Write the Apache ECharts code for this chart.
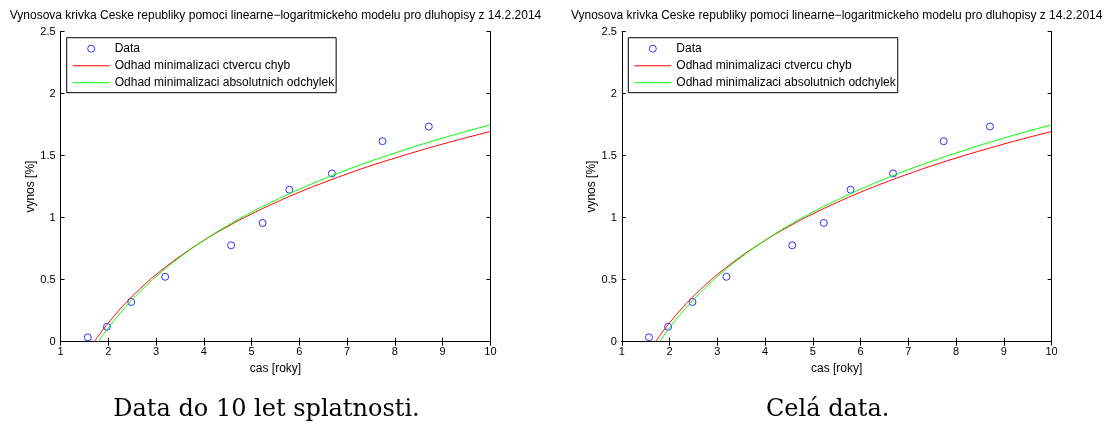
<!DOCTYPE html>
<html>
<head>
<meta charset="utf-8">
<script src="https://cdn.jsdelivr.net/npm/echarts@6/dist/echarts.min.js"></script>
<style>html,body{margin:0;padding:0;background:#fff;}#c{width:1106px;height:426px;}</style>
</head>
<body>
<div id="c"></div>
<script>
const titleText = 'Vynosova krivka Ceske republiky pomoci linearne\u2212logaritmickeho modelu pro dluhopisy z 14.2.2014';
const captions = ['Data do 10 let splatnosti.', 'Cel\u00e1 data.'];
const seriesNames = ['Data', 'Odhad minimalizaci ctvercu chyb', 'Odhad minimalizaci absolutnich odchylek'];
const xAxisName = 'cas [roky]';
const yAxisName = 'vynos [%]';

const dataX = [1.57, 1.97, 2.48, 3.19, 4.57, 5.23, 5.79, 6.68, 7.74, 8.71];
const dataY = [0.035, 0.12, 0.32, 0.523, 0.777, 0.957, 1.225, 1.356, 1.616, 1.734];

const redX = [1.706, 1.8, 1.9, 2, 2.25, 2.5, 2.75, 3, 3.5, 4, 4.5, 5, 5.5, 6, 6.5, 7, 7.5, 8, 8.5, 9, 9.5, 10];
const redY = [0, 0.051, 0.103, 0.152, 0.265, 0.366, 0.457, 0.541, 0.688, 0.816, 0.929, 1.030, 1.121, 1.205, 1.281, 1.352, 1.419, 1.480, 1.538, 1.593, 1.645, 1.694];

const greenX = [1.79, 1.9, 2, 2.25, 2.5, 2.75, 3, 3.5, 4, 4.5, 5, 5.5, 6, 6.5, 7, 7.5, 8, 8.5, 9, 9.5, 10];
const greenY = [0, 0.061, 0.113, 0.232, 0.339, 0.436, 0.525, 0.681, 0.817, 0.937, 1.044, 1.140, 1.229, 1.310, 1.386, 1.456, 1.521, 1.583, 1.641, 1.696, 1.748];

const FONT = 'Liberation Sans, Arial, Helvetica, sans-serif';
const zip = (xs, ys) => xs.map((x, i) => [x, ys[i]]);
const LINE_ICON = 'path://M0,0H37V1H0Z';

const panels = [
  { left: 60.6, right: 1106 - 490.4, legendLeft: 66.7 },
  { left: 621.8, right: 1106 - 1051.6, legendLeft: 628.3 }
];
const gridTop = 31.5, gridBottomPx = 341.7;

const grids = [], xAxes = [], yAxes = [], series = [], titles = [], legends = [], graphics = [];
panels.forEach((p, i) => {
  grids.push({ left: p.left, right: p.right, top: gridTop, height: gridBottomPx - gridTop, containLabel: false });
  const plotW = 1106 - p.left - p.right;
  const cx = p.left + plotW / 2;
  const axLine = { show: true, lineStyle: { color: '#000', width: 1 } };
  const tick = { show: true, inside: true, length: 4, lineStyle: { color: '#000', width: 1 } };
  xAxes.push({
    type: 'value', gridIndex: i, position: 'bottom', min: 1, max: 10, interval: 1,
    axisLine: axLine, axisTick: tick, splitLine: { show: false },
    axisLabel: { color: '#000', fontFamily: FONT, fontSize: 11, margin: 5 },
    name: xAxisName, nameLocation: 'middle', nameGap: 20,
    nameTextStyle: { color: '#000', fontFamily: FONT, fontSize: 12 }
  });
  xAxes.push({
    type: 'value', gridIndex: i, position: 'top', min: 1, max: 10, interval: 1,
    axisLine: axLine, axisTick: tick, splitLine: { show: false }, axisLabel: { show: false }
  });
  yAxes.push({
    type: 'value', gridIndex: i, position: 'left', min: 0, max: 2.5, interval: 0.5,
    axisLine: axLine, axisTick: tick, splitLine: { show: false },
    axisLabel: { color: '#000', fontFamily: FONT, fontSize: 11, margin: 5 },
    name: yAxisName, nameLocation: 'middle', nameGap: 24,
    nameTextStyle: { color: '#000', fontFamily: FONT, fontSize: 12 }
  });
  yAxes.push({
    type: 'value', gridIndex: i, position: 'right', min: 0, max: 2.5, interval: 0.5,
    axisLine: axLine, axisTick: tick, splitLine: { show: false }, axisLabel: { show: false }
  });
  const xi = i * 2, yi = i * 2;
  series.push({
    name: seriesNames[1], type: 'line', xAxisIndex: xi, yAxisIndex: yi,
    data: zip(redX, redY), smooth: true, symbol: 'none', clip: true,
    lineStyle: { color: '#ff0000', width: 1 }, itemStyle: { color: '#ff0000' }
  });
  series.push({
    name: seriesNames[2], type: 'line', xAxisIndex: xi, yAxisIndex: yi,
    data: zip(greenX, greenY), smooth: true, symbol: 'none', clip: true,
    lineStyle: { color: '#00ff00', width: 1 }, itemStyle: { color: '#00ff00' }
  });
  series.push({
    name: seriesNames[0], type: 'scatter', xAxisIndex: xi, yAxisIndex: yi,
    data: zip(dataX, dataY), symbol: 'circle', symbolSize: 7,
    itemStyle: { color: 'rgba(0,0,0,0)', borderColor: '#0000ff', borderWidth: 1 }
  });
  titles.push({
    text: titleText, left: cx, top: 9.5, textAlign: 'center', padding: 0,
    textStyle: { color: '#000', fontFamily: FONT, fontSize: 12, fontWeight: 'normal', lineHeight: 12 }
  });
  legends.push({
    data: [
      { name: seriesNames[0], icon: 'circle', itemStyle: { color: 'rgba(0,0,0,0)', borderColor: '#0000ff', borderWidth: 1 } },
      { name: seriesNames[1], icon: LINE_ICON, itemStyle: { color: '#ff0000', borderWidth: 0 } },
      { name: seriesNames[2], icon: LINE_ICON, itemStyle: { color: '#00ff00', borderWidth: 0 } }
    ],
    orient: 'vertical', left: p.legendLeft, top: 37.7,
    padding: [5, 2, 4, 6], itemWidth: 37, itemHeight: 7, itemGap: 5,
    borderColor: '#000', borderWidth: 1, backgroundColor: '#fff',
    selectedMode: false,
    textStyle: { color: '#000', fontFamily: FONT, fontSize: 12, lineHeight: 12 }
  });
  graphics.push({
    type: 'text', x: cx - 9, y: 410, silent: true,
    style: {
      text: captions[i], fill: '#000', font: '24px "DejaVu Serif", serif',
      align: 'center', verticalAlign: 'middle'
    }
  });
});

const chart = echarts.init(document.getElementById('c'), null, { renderer: 'canvas' });
chart.setOption({
  animation: false,
  backgroundColor: '#fff',
  title: titles,
  legend: legends,
  grid: grids,
  xAxis: xAxes,
  yAxis: yAxes,
  series: series,
  graphic: graphics
});
</script>
</body>
</html>
